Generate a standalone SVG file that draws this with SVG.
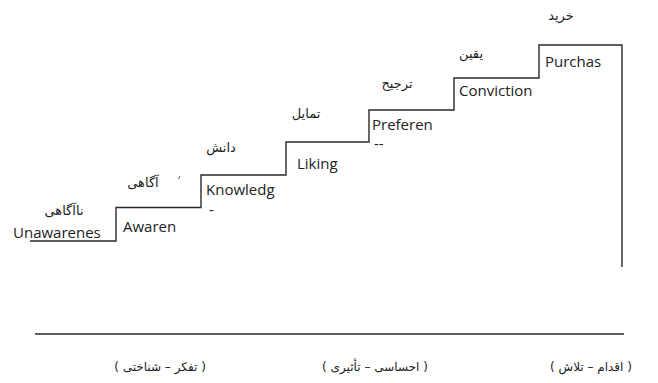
<svg xmlns="http://www.w3.org/2000/svg" width="658" height="383" viewBox="0 0 658 383">
<style>
.en{font-family:"Open Sans","Liberation Sans",sans-serif;font-size:15px;fill:#222}
.fa{font-family:"DejaVu Sans","Noto Sans",sans-serif;font-size:13px;fill:#222}
.fb{font-family:"DejaVu Sans","Noto Sans",sans-serif;font-size:12px;fill:#222}
.ln{fill:none;stroke:#2a2a2a;stroke-width:1.4}
</style>
<rect width="658" height="383" fill="#fff"/>
<g id="connectors">
<path class="ln" d="M30,241 H116 V207.5 H201 V175 H286 V142 H369 V110 H454 V78 H539 V45 H622 V267"/>
<line class="ln" x1="35" y1="334" x2="624" y2="334" stroke-width="1.6"/>
</g>
<g id="unawareness">
<text class="fa" x="64" y="215" text-anchor="middle">ناآگاهی</text>
<text class="en" x="13" y="238">Unawarenes</text>
</g>
<g id="awareness">
<text class="fa" x="143" y="187" text-anchor="middle">آگاهی</text>
<line x1="180" y1="176" x2="178.5" y2="179" stroke="#555" stroke-width="1"/>
<text class="en" x="123" y="232">Awaren</text>
</g>
<g id="knowledge">
<text class="fa" x="221" y="152" text-anchor="middle">دانش</text>
<text class="en" x="206" y="195">Knowledg</text>
<text class="en" x="209" y="215">-</text>
</g>
<g id="liking">
<text class="fa" x="306" y="118" text-anchor="middle">تمایل</text>
<text class="en" x="297" y="169">Liking</text>
</g>
<g id="preference">
<text class="fa" x="397" y="88" text-anchor="middle">ترجیح</text>
<text class="en" x="372" y="130">Preferen</text>
<text class="en" x="374" y="149">--</text>
</g>
<g id="conviction">
<text class="fa" x="471" y="58" text-anchor="middle">یقین</text>
<text class="en" x="459" y="96">Conviction</text>
</g>
<g id="purchase">
<text class="fa" x="561" y="20" text-anchor="middle">خرید</text>
<text class="en" x="545" y="67">Purchas</text>
</g>
<g id="categories">
<text class="fb" x="160" y="371" text-anchor="middle" direction="ltr">( تفکر – شناختی )</text>
<text class="fb" x="375" y="371" text-anchor="middle" direction="ltr">( احساسی – تأثیری )</text>
<text class="fb" x="591" y="371" text-anchor="middle" direction="ltr">( اقدام – تلاش )</text>
</g>
</svg>
